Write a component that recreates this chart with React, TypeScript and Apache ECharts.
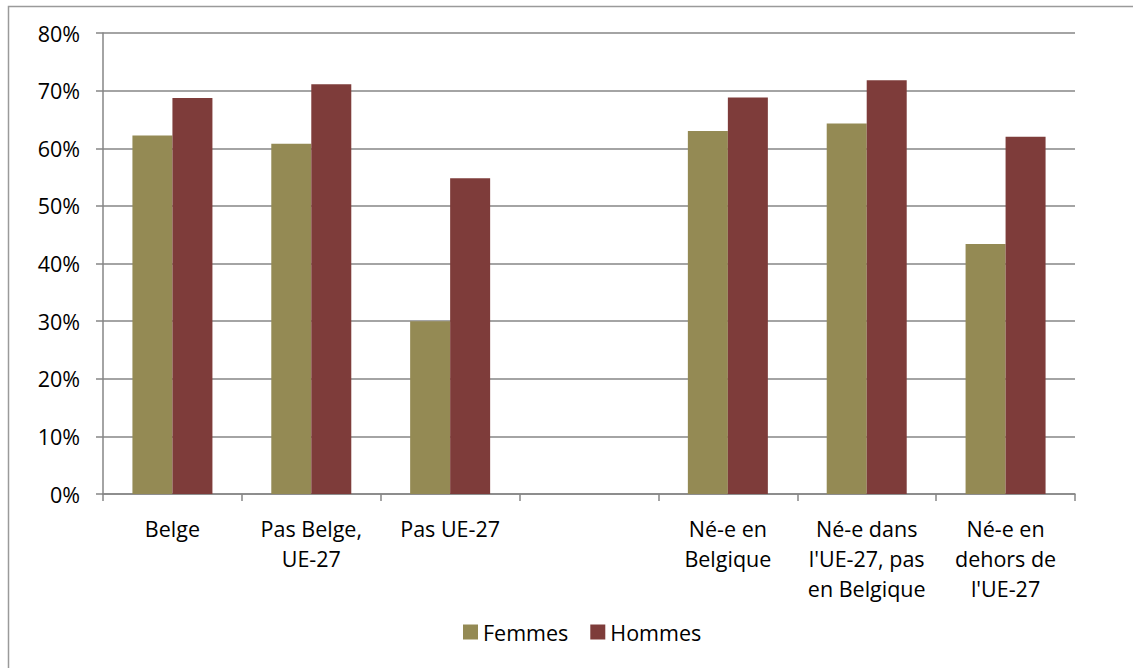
import React, { useEffect, useRef } from "react";
import * as echarts from "echarts";

const categories = [
  "Belge",
  "Pas Belge,\nUE-27",
  "Pas UE-27",
  "",
  "Né-e en\nBelgique",
  "Né-e dans\nl'UE-27, pas\nen Belgique",
  "Né-e en\ndehors de\nl'UE-27",
];
const femmes: (number | null)[] = [62.2, 60.8, 30.0, null, 63.0, 64.3, 43.4];
const hommes: (number | null)[] = [68.7, 71.1, 54.8, null, 68.8, 71.8, 62.0];
const seriesNames = ["Femmes", "Hommes"];

const FONT = "'Open Sans', 'Noto Sans', sans-serif";

export default function App() {
  const ref = useRef<HTMLDivElement>(null);
  useEffect(() => {
    if (!ref.current) return;
    const chart = echarts.init(ref.current, undefined, { renderer: "svg" });
    chart.setOption({
      animation: false,
      backgroundColor: "#ffffff",
      textStyle: { fontFamily: FONT },
      graphic: [
        {
          type: "rect",
          shape: { x: 8.5, y: 6.5, width: 1300, height: 800 },
          style: { fill: "none", stroke: "#9a9a9a", lineWidth: 1.5 },
          silent: true,
        },
      ],
      grid: { left: 103, right: 58, top: 33, bottom: 174, containLabel: false },
      legend: {
        data: seriesNames,
        bottom: 20,
        left: 458,
        icon: "rect",
        itemWidth: 15,
        itemHeight: 15,
        itemGap: 22,
        textStyle: { fontFamily: FONT, fontSize: 21.5, color: "#000" },
      },
      xAxis: {
        type: "category",
        data: categories,
        axisLine: { lineStyle: { color: "#868686", width: 1.5 } },
        axisTick: { show: true, length: 7, interval: 0, lineStyle: { color: "#868686", width: 1.5 } },
        axisLabel: {
          interval: 0,
          margin: 19,
          color: "#000",
          fontFamily: FONT,
          fontSize: 21.5,
          lineHeight: 30,
          align: "center",
        },
      },
      yAxis: {
        type: "value",
        min: 0,
        max: 80,
        interval: 10,
        axisLine: { show: true, lineStyle: { color: "#868686", width: 1.5 } },
        axisTick: { show: true, length: 7, lineStyle: { color: "#868686", width: 1.5 } },
        splitLine: { show: true, lineStyle: { color: "#868686", width: 1.5 } },
        axisLabel: {
          margin: 23,
          color: "#000",
          fontFamily: FONT,
          fontSize: 21.5,
          formatter: (v: number) => `${v}%`,
        },
      },
      series: [
        {
          name: seriesNames[0],
          type: "bar",
          data: femmes,
          barWidth: 40,
          barGap: "0%",
          itemStyle: { color: "#948A54" },
        },
        {
          name: seriesNames[1],
          type: "bar",
          data: hommes,
          barWidth: 40,
          barGap: "0%",
          itemStyle: { color: "#7E3C3A" },
        },
      ],
    });
    return () => chart.dispose();
  }, []);
  return (
    <div
      ref={ref}
      style={{ position: "fixed", left: 0, top: 0, width: 1133, height: 668 }}
    />
  );
}
